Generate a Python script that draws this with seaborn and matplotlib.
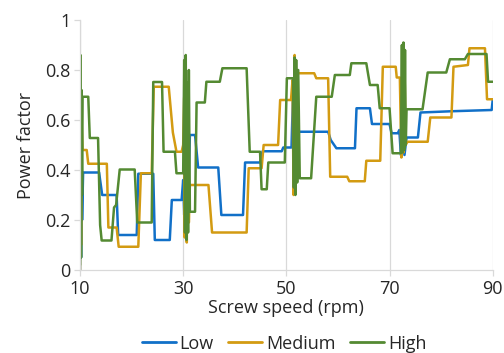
import matplotlib
matplotlib.use("Agg")
import matplotlib.pyplot as plt
import seaborn as sns
import pandas as pd

# ---- data ----
low_x = [10.0, 10.1, 10.2, 10.3, 10.4, 10.6, 13.7, 14.3, 17.1, 17.4, 21.0, 21.3, 24.2, 24.5, 27.4, 27.8,
         29.7, 30.0, 30.2, 30.4, 30.6, 30.8, 31.0, 31.3, 32.3, 32.9, 36.8, 37.4, 41.6, 42.0, 44.9, 45.4,
         49.1, 49.4, 51.0, 51.3, 51.6, 52.3, 58.1, 58.6, 59.7, 63.3, 63.6, 66.2, 66.6, 70.0, 70.4, 71.6,
         71.9, 72.2, 72.6, 72.9, 73.3, 75.5, 76.0, 82.0, 89.8, 90.0]
low_y = [0.0, 0.83, 0.05, 0.6, 0.2, 0.39, 0.39, 0.30, 0.30, 0.14, 0.14, 0.385, 0.385, 0.12, 0.12, 0.28,
         0.28, 0.36, 0.22, 0.58, 0.25, 0.50, 0.30, 0.54, 0.54, 0.41, 0.41, 0.22, 0.22, 0.43, 0.43, 0.475,
         0.475, 0.49, 0.49, 0.71, 0.50, 0.553, 0.553, 0.52, 0.487, 0.487, 0.647, 0.647, 0.584, 0.584, 0.547, 0.547,
         0.56, 0.46, 0.50, 0.46, 0.53, 0.53, 0.63, 0.635, 0.64, 0.68]

med_x = [10.0, 10.1, 10.2, 10.3, 10.5, 11.3, 11.6, 15.2, 15.5, 17.1, 17.5, 21.3, 21.8, 23.9, 24.3, 27.2,
         28.0, 28.7, 29.7, 30.0, 30.2, 30.3, 30.5, 30.7, 30.9, 31.1, 31.3, 34.9, 35.6, 42.3, 42.7, 45.2,
         45.6, 48.4, 48.8, 50.9, 51.2, 51.4, 51.6, 51.8, 52.0, 52.3, 55.4, 55.8, 58.1, 58.5, 61.8, 62.2,
         65.2, 65.5, 68.2, 68.7, 71.2, 71.4, 72.0, 72.3, 72.5, 72.7, 72.9, 73.1, 73.5, 77.4, 77.9, 82.0,
         82.4, 85.2, 85.5, 88.5, 88.9, 90.0]
med_y = [0.0, 0.75, 0.10, 0.60, 0.48, 0.48, 0.425, 0.425, 0.17, 0.17, 0.093, 0.093, 0.387, 0.387, 0.733, 0.733,
         0.55, 0.473, 0.473, 0.50, 0.69, 0.13, 0.78, 0.11, 0.60, 0.19, 0.34, 0.34, 0.15, 0.15, 0.407, 0.407,
         0.50, 0.50, 0.68, 0.68, 0.76, 0.30, 0.86, 0.31, 0.80, 0.787, 0.787, 0.767, 0.767, 0.373, 0.373, 0.355,
         0.355, 0.437, 0.437, 0.813, 0.813, 0.77, 0.77, 0.45, 0.89, 0.47, 0.85, 0.50, 0.513, 0.513, 0.61, 0.61,
         0.813, 0.82, 0.887, 0.887, 0.683, 0.683]

high_x = [10.0, 10.1, 10.2, 10.3, 10.4, 10.5, 11.6, 11.9, 13.5, 13.9, 14.2, 16.1, 16.6, 17.0, 17.7, 20.6,
          21.1, 23.9, 24.2, 25.9, 26.2, 28.4, 28.7, 30.0, 30.2, 30.35, 30.5, 30.65, 30.8, 30.95, 31.1, 31.3,
          32.3, 32.6, 34.2, 34.5, 37.1, 37.6, 42.3, 42.9, 44.9, 45.2, 46.2, 46.5, 49.7, 50.1, 51.3, 51.45,
          51.6, 51.75, 51.9, 52.1, 52.3, 52.6, 54.8, 55.8, 58.8, 59.4, 62.3, 62.6, 65.5, 66.2, 67.7, 68.1,
          70.0, 70.6, 72.2, 72.4, 72.55, 72.7, 72.85, 73.0, 73.15, 73.3, 76.4, 77.4, 81.0, 81.7, 84.6, 85.2,
          88.8, 89.1, 90.0]
high_y = [0.02, 0.86, 0.05, 0.72, 0.30, 0.693, 0.693, 0.528, 0.528, 0.18, 0.118, 0.118, 0.25, 0.26, 0.402, 0.402,
          0.19, 0.19, 0.752, 0.752, 0.473, 0.473, 0.387, 0.387, 0.84, 0.15, 0.86, 0.12, 0.75, 0.15, 0.80, 0.233,
          0.233, 0.67, 0.67, 0.753, 0.753, 0.807, 0.807, 0.473, 0.473, 0.323, 0.323, 0.43, 0.43, 0.767, 0.767, 0.33,
          0.85, 0.30, 0.84, 0.35, 0.80, 0.367, 0.367, 0.693, 0.693, 0.78, 0.78, 0.827, 0.827, 0.74, 0.74, 0.647,
          0.647, 0.467, 0.467, 0.90, 0.47, 0.91, 0.48, 0.88, 0.50, 0.643, 0.643, 0.79, 0.79, 0.843, 0.843, 0.864,
          0.864, 0.753, 0.753]

series_names = ["Low", "Medium", "High"]
colors = ["#1170C8", "#D39B12", "#548A32"]
x_ticks = [10, 30, 50, 70, 90]
y_ticks = [0, 0.2, 0.4, 0.6, 0.8, 1]
y_tick_labels = ["0", "0.2", "0.4", "0.6", "0.8", "1"]

frames = []
for name, xs, ys in zip(series_names, [low_x, med_x, high_x], [low_y, med_y, high_y]):
    frames.append(pd.DataFrame({"speed": xs, "pf": ys, "series": name}))
df = pd.concat(frames, ignore_index=True)

sns.set_style("white")
plt.rcParams["font.family"] = ["Open Sans", "DejaVu Sans"]

fig = plt.figure(figsize=(5.04, 3.53), dpi=100)
ax = fig.add_axes([80 / 504, 1 - 270 / 353, 412.7 / 504, 250 / 353])

sns.lineplot(data=df, x="speed", y="pf", hue="series", hue_order=series_names,
             palette=dict(zip(series_names, colors)), estimator=None, sort=False,
             units="series", linewidth=1.8, ax=ax, legend=False)

ax.set_xlim(10, 90)
ax.set_ylim(0, 1)
ax.set_xticks(x_ticks)
ax.set_xticklabels([str(t) for t in x_ticks])
ax.set_yticks(y_ticks)
ax.set_yticklabels(y_tick_labels)

grid_c = "#D9D9D9"
ax.xaxis.grid(True, color=grid_c, linewidth=0.9)
ax.yaxis.grid(False)
ax.set_axisbelow(True)
for s in ["top", "right"]:
    ax.spines[s].set_visible(False)
for s in ["left", "bottom"]:
    ax.spines[s].set_color(grid_c)
    ax.spines[s].set_linewidth(0.9)
ax.tick_params(axis="both", colors=grid_c, length=4, width=0.9, labelsize=13,
               labelcolor="#262626", pad=3, bottom=True, left=True)

ax.set_xlabel("Screw speed (rpm)", fontsize=13, color="#262626", labelpad=1)
ax.set_ylabel("Power factor", fontsize=13, color="#262626", labelpad=7)

handles = [plt.Line2D([], [], color=c, linewidth=2.0) for c in colors]
fig.legend(handles, series_names, loc="lower center", bbox_to_anchor=(284 / 504, -0.035),
           ncol=3, frameon=False, fontsize=13, handlelength=1.9, handletextpad=0.2,
           columnspacing=0.8, labelcolor="#262626", borderpad=0.2)

fig.savefig("out.png", dpi=100)
